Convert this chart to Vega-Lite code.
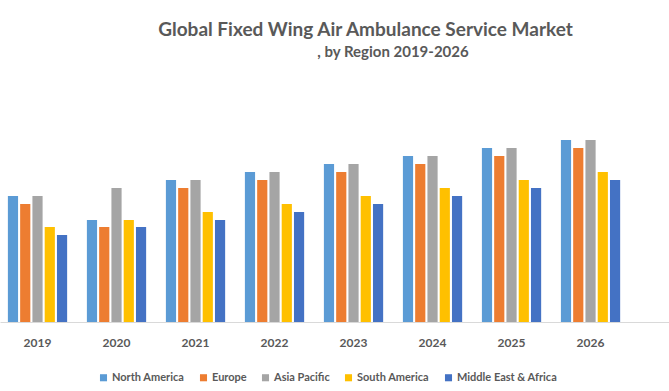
{
  "$schema": "https://vega.github.io/schema/vega-lite/v6.json",
  "width": 669,
  "height": 222,
  "autosize": "none",
  "padding": {"top": 100, "left": 0, "right": 0, "bottom": 69},
  "background": "white",
  "title": {
    "text": "Global Fixed Wing Air Ambulance Service Market",
    "subtitle": "\u2800\u2800\u2800\u2800\u2800, by Region 2019-2026",
    "anchor": "middle",
    "dx": 31,
    "offset": 40,
    "font": "Lato",
    "fontSize": 19,
    "fontWeight": "bold",
    "color": "#595959",
    "subtitleFont": "Lato",
    "subtitleFontSize": 15,
    "subtitleFontWeight": "bold",
    "subtitleColor": "#595959",
    "subtitlePadding": 5
  },
  "data": {
    "values": [
      {"year": "2019", "region": "North America", "value": 126},
      {"year": "2019", "region": "Europe", "value": 118},
      {"year": "2019", "region": "Asia Pacific", "value": 126},
      {"year": "2019", "region": "South America", "value": 95},
      {"year": "2019", "region": "Middle East & Africa", "value": 87},
      {"year": "2020", "region": "North America", "value": 102},
      {"year": "2020", "region": "Europe", "value": 95},
      {"year": "2020", "region": "Asia Pacific", "value": 134},
      {"year": "2020", "region": "South America", "value": 102},
      {"year": "2020", "region": "Middle East & Africa", "value": 95},
      {"year": "2021", "region": "North America", "value": 142},
      {"year": "2021", "region": "Europe", "value": 134},
      {"year": "2021", "region": "Asia Pacific", "value": 142},
      {"year": "2021", "region": "South America", "value": 110},
      {"year": "2021", "region": "Middle East & Africa", "value": 102},
      {"year": "2022", "region": "North America", "value": 150},
      {"year": "2022", "region": "Europe", "value": 142},
      {"year": "2022", "region": "Asia Pacific", "value": 150},
      {"year": "2022", "region": "South America", "value": 118},
      {"year": "2022", "region": "Middle East & Africa", "value": 110},
      {"year": "2023", "region": "North America", "value": 158},
      {"year": "2023", "region": "Europe", "value": 150},
      {"year": "2023", "region": "Asia Pacific", "value": 158},
      {"year": "2023", "region": "South America", "value": 126},
      {"year": "2023", "region": "Middle East & Africa", "value": 118},
      {"year": "2024", "region": "North America", "value": 166},
      {"year": "2024", "region": "Europe", "value": 158},
      {"year": "2024", "region": "Asia Pacific", "value": 166},
      {"year": "2024", "region": "South America", "value": 134},
      {"year": "2024", "region": "Middle East & Africa", "value": 126},
      {"year": "2025", "region": "North America", "value": 174},
      {"year": "2025", "region": "Europe", "value": 166},
      {"year": "2025", "region": "Asia Pacific", "value": 174},
      {"year": "2025", "region": "South America", "value": 142},
      {"year": "2025", "region": "Middle East & Africa", "value": 134},
      {"year": "2026", "region": "North America", "value": 182},
      {"year": "2026", "region": "Europe", "value": 174},
      {"year": "2026", "region": "Asia Pacific", "value": 182},
      {"year": "2026", "region": "South America", "value": 150},
      {"year": "2026", "region": "Middle East & Africa", "value": 142}
    ]
  },
  "mark": {"type": "bar"},
  "encoding": {
    "x": {
      "field": "year",
      "type": "nominal",
      "scale": {"paddingInner": 0.25, "paddingOuter": 0.359, "align": 0.139},
      "axis": {
        "title": null,
        "labelAngle": 0,
        "ticks": false,
        "domainColor": "#d9d9d9",
        "domainWidth": 1,
        "labelFont": "Lato",
        "labelFontSize": 12,
        "labelFontWeight": "bold",
        "labelColor": "#595959",
        "labelPadding": 15
      }
    },
    "xOffset": {
      "field": "region",
      "type": "nominal",
      "sort": ["North America", "Europe", "Asia Pacific", "South America", "Middle East & Africa"],
      "scale": {"paddingInner": 0.17, "paddingOuter": 0}
    },
    "y": {
      "field": "value",
      "type": "quantitative",
      "scale": {"domain": [0, 222], "nice": false},
      "axis": null
    },
    "color": {
      "field": "region",
      "type": "nominal",
      "sort": ["North America", "Europe", "Asia Pacific", "South America", "Middle East & Africa"],
      "scale": {
        "domain": ["North America", "Europe", "Asia Pacific", "South America", "Middle East & Africa"],
        "range": ["#5b9bd5", "#ed7d31", "#a5a5a5", "#ffc000", "#4472c4"]
      },
      "legend": {
        "title": null,
        "orient": "none",
        "legendX": 98,
        "legendY": 272,
        "direction": "horizontal",
        "symbolType": "square",
        "symbolSize": 50,
        "symbolStrokeWidth": 0,
        "labelFont": "Lato",
        "labelFontSize": 11,
        "labelFontWeight": "bold",
        "labelColor": "#595959",
        "labelOffset": 3,
        "columnPadding": 13
      }
    }
  },
  "config": {
    "view": {"stroke": null}
  }
}
